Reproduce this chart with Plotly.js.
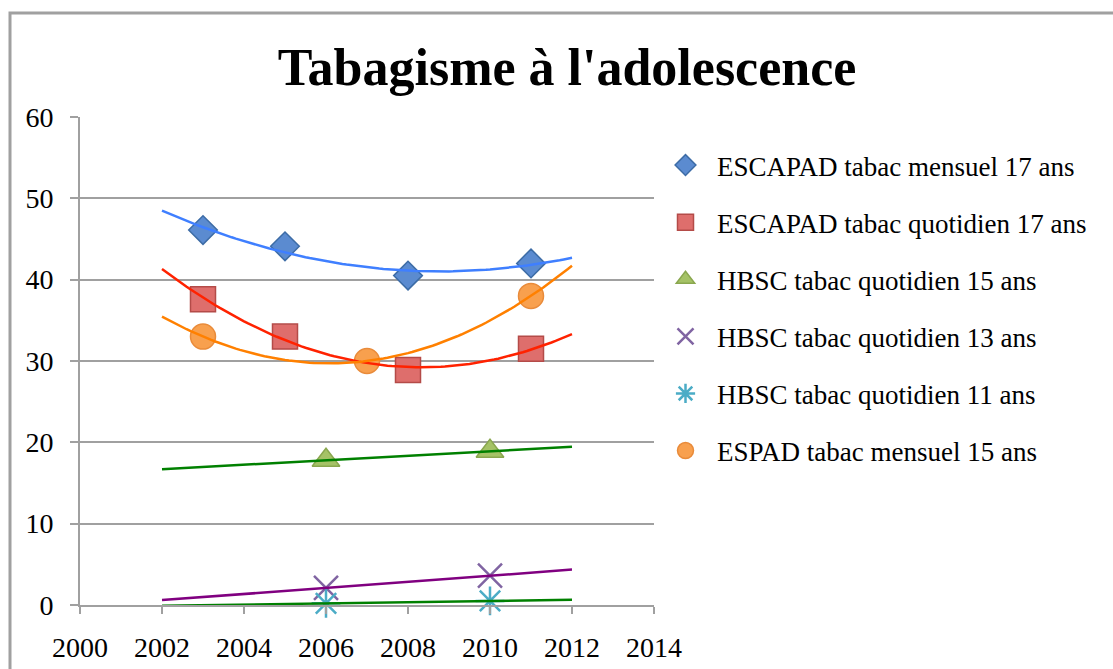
<!DOCTYPE html>
<html>
<head>
<meta charset="utf-8">
<script src="https://cdn.plot.ly/plotly-3.0.1.min.js"></script>
<style>html,body{margin:0;padding:0;background:#fff;}#chart{width:1113px;height:669px;}</style>
</head>
<body>
<div id="chart"></div>
<script>
// ---- data ----
const seriesNames = [
  "ESCAPAD tabac mensuel 17 ans",
  "ESCAPAD tabac quotidien 17 ans",
  "HBSC tabac quotidien 15 ans",
  "HBSC tabac quotidien 13 ans",
  "HBSC tabac quotidien 11 ans",
  "ESPAD tabac mensuel 15 ans"
];
const escapadMensuelYears = [2003, 2005, 2008, 2011];
const escapadMensuelValues = [46.1, 44.1, 40.5, 42.0];
const escapadQuotidienYears = [2003, 2005, 2008, 2011];
const escapadQuotidienValues = [37.6, 33.0, 28.9, 31.5];
const hbsc15Years = [2006, 2010];
const hbsc15Values = [17.8, 18.9];
const hbsc13Years = [2006, 2010];
const hbsc13Values = [2.1, 3.6];
const hbsc11Years = [2006, 2010];
const hbsc11Values = [0.2, 0.5];
const espadYears = [2003, 2007, 2011];
const espadValues = [33.0, 30.0, 38.0];
const xTickVals = [2000, 2002, 2004, 2006, 2008, 2010, 2012, 2014];
const yTickVals = [0, 10, 20, 30, 40, 50, 60];
const trendStart = 2002, trendEnd = 2012;

// ---- least-squares polynomial trendline (as the spreadsheet computes it) ----
function polyfit(xs, ys, deg) {
  const x0 = 2007;
  const n = deg + 1;
  const A = [], B = [];
  for (let i = 0; i < n; i++) {
    A.push(new Array(n).fill(0)); B.push(0);
  }
  xs.forEach((xv, k) => {
    const t = xv - x0;
    for (let i = 0; i < n; i++) {
      for (let j = 0; j < n; j++) A[i][j] += Math.pow(t, i + j);
      B[i] += ys[k] * Math.pow(t, i);
    }
  });
  for (let i = 0; i < n; i++) {
    let p = i;
    for (let r = i + 1; r < n; r++) if (Math.abs(A[r][i]) > Math.abs(A[p][i])) p = r;
    [A[i], A[p]] = [A[p], A[i]]; [B[i], B[p]] = [B[p], B[i]];
    for (let r = i + 1; r < n; r++) {
      const f = A[r][i] / A[i][i];
      for (let c = i; c < n; c++) A[r][c] -= f * A[i][c];
      B[r] -= f * B[i];
    }
  }
  const coef = new Array(n).fill(0);
  for (let i = n - 1; i >= 0; i--) {
    let s = B[i];
    for (let c = i + 1; c < n; c++) s -= A[i][c] * coef[c];
    coef[i] = s / A[i][i];
  }
  return x => coef.reduce((acc, c, i) => acc + c * Math.pow(x - x0, i), 0);
}
function trend(xs, ys, deg, color, name) {
  const f = polyfit(xs, ys, deg);
  const tx = [], ty = [];
  for (let k = 0; k <= 100; k++) {
    const xv = trendStart + (trendEnd - trendStart) * k / 100;
    tx.push(xv); ty.push(f(xv));
  }
  return {x: tx, y: ty, mode: 'lines', type: 'scatter', showlegend: false,
          hoverinfo: 'skip', name: name + ' (tendance)',
          line: {color: color, width: 2.5}};
}
function pts(xs, ys, i, marker) {
  return {x: xs, y: ys, mode: 'markers', type: 'scatter', name: seriesNames[i],
          legendgroup: 'g' + i, cliponaxis: false, marker: marker};
}

const traces = [
  pts(escapadMensuelYears, escapadMensuelValues, 0,
      {symbol: 'diamond', size: 22, color: '#5b8bd0', line: {color: '#3d6ca6', width: 1.5}}),
  pts(escapadQuotidienYears, escapadQuotidienValues, 1,
      {symbol: 'square', size: 25, color: '#de6e6c', line: {color: '#b44b48', width: 1.5}}),
  pts(hbsc15Years, hbsc15Values, 2,
      {symbol: 'triangle-up', size: 24, color: '#a5c266', line: {color: '#8aa74f', width: 1.5}}),
  pts(hbsc13Years, hbsc13Values, 3,
      {symbol: 'x-thin-open', size: 24, color: '#8064a2', line: {color: '#8064a2', width: 2.5}}),
  pts(hbsc11Years, hbsc11Values, 4,
      {symbol: 'asterisk-open', size: 24, color: '#4bacc6', line: {color: '#4bacc6', width: 2.5}}),
  pts(espadYears, espadValues, 5,
      {symbol: 'circle', size: 25, color: '#f8a04e', line: {color: '#e98b3a', width: 1.5}}),
  trend(escapadMensuelYears, escapadMensuelValues, 2, '#3f7fff', seriesNames[0]),
  trend(escapadQuotidienYears, escapadQuotidienValues, 2, '#ff2200', seriesNames[1]),
  trend(espadYears, espadValues, 2, '#ff8000', seriesNames[5]),
  trend(hbsc15Years, hbsc15Values, 1, '#008000', seriesNames[2]),
  trend(hbsc13Years, hbsc13Values, 1, '#800080', seriesNames[3]),
  trend(hbsc11Years, hbsc11Values, 1, '#008000', seriesNames[4])
];

const L = 80, R = 654, T = 117, B = 605, W = 1113, H = 669;
const px = v => (v - L) / (R - L);
const py = v => (B - v) / (B - T);
const serif = 'Liberation Serif, Times New Roman, serif';

const layout = {
  width: W, height: H,
  margin: {l: L, r: W - R, t: T, b: H - B, pad: 0},
  paper_bgcolor: '#ffffff', plot_bgcolor: '#ffffff',
  font: {family: serif, color: '#000000', size: 27},
  title: {text: "<b>Tabagisme à l'adolescence</b>", font: {family: serif, size: 52, color: '#000'},
          x: 567 / W, xanchor: 'center', y: 1 - 67 / H, yanchor: 'middle'},
  xaxis: {range: [2000, 2014], tickvals: xTickVals, ticktext: xTickVals.map(String),
          showgrid: false, zeroline: false, showline: true, linecolor: '#a0a0a0', linewidth: 2,
          ticks: 'outside', ticklen: 7, tickwidth: 2, tickcolor: '#a0a0a0',
          tickfont: {family: serif, size: 28}, ticklabelstandoff: 9, fixedrange: true},
  yaxis: {range: [0, 60], tickvals: yTickVals, ticktext: yTickVals.map(String),
          showgrid: true, gridcolor: '#a0a0a0', gridwidth: 2, zeroline: false,
          showline: true, linecolor: '#a0a0a0', linewidth: 2,
          ticks: 'outside', ticklen: 8, tickwidth: 2, tickcolor: '#a0a0a0',
          tickfont: {family: serif, size: 28}, ticklabelstandoff: 11, fixedrange: true},
  legend: {x: px(654), xanchor: 'left', y: py(141), yanchor: 'top',
           font: {family: serif, size: 27, color: '#000'}, tracegroupgap: 19, itemwidth: 53,
           bgcolor: 'rgba(0,0,0,0)', itemclick: false, itemdoubleclick: false},
  shapes: [{type: 'rect', xref: 'paper', yref: 'paper',
            x0: px(10), x1: px(1130), y0: py(13), y1: py(690),
            line: {color: '#a0a0a0', width: 3}, fillcolor: 'rgba(0,0,0,0)', layer: 'below'}],
  showlegend: true
};

Plotly.newPlot('chart', traces, layout, {displayModeBar: false, staticPlot: true});
</script>
</body>
</html>
